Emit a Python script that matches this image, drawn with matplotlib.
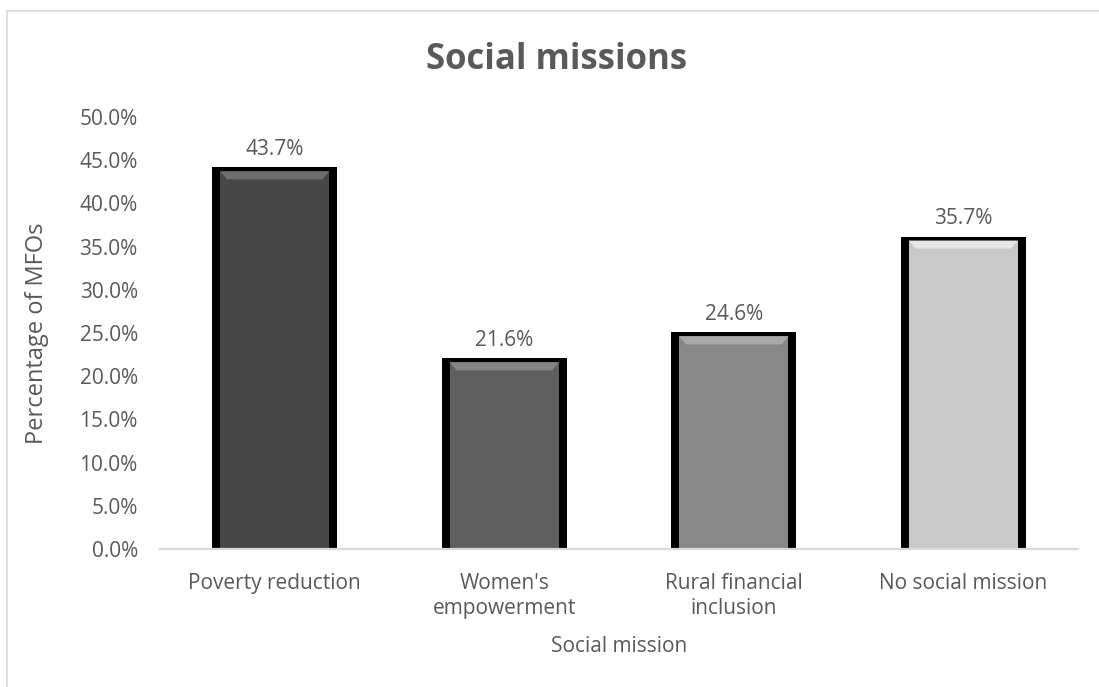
import numpy as np
import matplotlib.pyplot as plt
from matplotlib.patches import Polygon

# Datos
categories = ["Poverty reduction", "Women's\nempowerment", "Rural financial\ninclusion", "No social mission"]
values = [43.7, 21.6, 24.6, 35.7]
bar_colors = ["#474747", "#5f5f5f", "#888888", "#c9c9c9"]
bevel_colors = ["#6e6e6e", "#858585", "#a8a8a8", "#e6e6e6"]
yticks = np.arange(0, 50.1, 5)

text_gray = "#595959"
plt.rcParams['font.family'] = ['Open Sans', 'DejaVu Sans']

fig = plt.figure(figsize=(10.99, 6.87), dpi=100)
ax = fig.add_axes([0.1456, 0.2009, 0.8354, 0.6288])

x = np.arange(len(categories))
outer_w = 0.545
inner_w = 0.475
px = 50 / 432  # un píxel en unidades de datos (eje y)

# Barras: borde negro grueso y relleno gris con bisel
ax.bar(x, np.array(values) + 4 * px, width=outer_w, color="black", zorder=2)
ax.bar(x, values, width=inner_w, color=bar_colors, zorder=3)
for xi, v, bc in zip(x, values, bevel_colors):
    h = 8 * px
    inset = 0.03
    pts = [(xi - inner_w / 2, v), (xi + inner_w / 2, v),
           (xi + inner_w / 2 - inset, v - h), (xi - inner_w / 2 + inset, v - h)]
    ax.add_patch(Polygon(pts, closed=True, color=bc, zorder=4, lw=0))
    ax.text(xi, v + 4 * px + 0.9, f"{v:.1f}%", ha="center", va="bottom",
            fontsize=15, color=text_gray)

ax.set_xlim(-0.5, 3.5)
ax.set_ylim(0, 50)
ax.set_yticks(yticks)
ax.set_yticklabels([f"{t:.1f}%" for t in yticks])
ax.set_xticks(x)
ax.set_xticklabels(categories, linespacing=1.3)
ax.tick_params(length=0, labelsize=15, labelcolor=text_gray)
ax.tick_params(axis="x", pad=17)
ax.tick_params(axis="y", pad=16)

for s in ["top", "right", "left"]:
    ax.spines[s].set_visible(False)
ax.spines["bottom"].set_color("#d9d9d9")
ax.spines["bottom"].set_linewidth(1.6)
ax.spines["bottom"].set_zorder(5)

ax.set_ylabel("Percentage of MFOs", fontsize=17, color=text_gray, labelpad=22)
ax.set_xlabel("Social mission", fontsize=15, color=text_gray, labelpad=12)
fig.text(0.5068, 0.913, "Social missions", ha="center", va="center",
         fontsize=25, fontweight="bold", color=text_gray)

# Marco del gráfico
fig.add_artist(plt.Line2D([7 / 1099, 7 / 1099], [0, 1 - 11 / 687], color="#d9d9d9", lw=1.2))
fig.add_artist(plt.Line2D([7 / 1099, 1], [1 - 11 / 687, 1 - 11 / 687], color="#d9d9d9", lw=1.2))

fig.savefig("out.png", dpi=100)
